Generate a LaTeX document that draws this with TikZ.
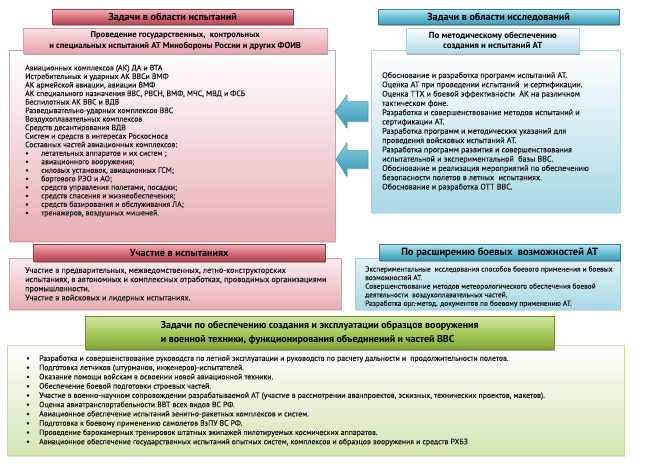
\documentclass[tikz,border=0pt]{standalone}
\usepackage{fontspec}
\setmainfont{PT Sans}
\newfontfamily\semib{PT Sans}[FakeBold=0.45]
\usetikzlibrary{shadows}
\definecolor{txt}{HTML}{1A1A1A}
\definecolor{rhTop}{HTML}{F2B2B8}
\definecolor{rhMid}{HTML}{D66E7A}
\definecolor{rhBot}{HTML}{B54452}
\definecolor{rsTop}{HTML}{FAE0E3}
\definecolor{rsBot}{HTML}{E6A2AA}
\definecolor{rbBot}{HTML}{E7AEB5}
\definecolor{rbLine}{HTML}{DB99A1}
\definecolor{bhTop}{HTML}{B6E3EE}
\definecolor{bhMid}{HTML}{68BED3}
\definecolor{bhBot}{HTML}{3C98B1}
\definecolor{bsBot}{HTML}{ADDBE7}
\definecolor{bbBot}{HTML}{A9D8E5}
\definecolor{bbLine}{HTML}{A4D2DF}
\definecolor{ghTop}{HTML}{D2E7A2}
\definecolor{ghMid}{HTML}{A6CA5C}
\definecolor{ghBot}{HTML}{80A636}
\definecolor{gbBot}{HTML}{D3E5B3}
\definecolor{gbLine}{HTML}{C6DAA2}
\definecolor{arTop}{HTML}{86CDE0}
\definecolor{arBot}{HTML}{3597B3}
\begin{document}
\begin{tikzpicture}[x=1bp,y=-1bp,
  shd/.style={drop shadow={shadow xshift=1.2bp,shadow yshift=-1.6bp,opacity=0.45,fill=black!70}},
  softshd/.style={drop shadow={shadow xshift=1bp,shadow yshift=-1.2bp,opacity=0.22,fill=black!60}},
  panel/.style={rectangle, inner sep=0pt, anchor=north west, line width=0.6bp, softshd},
  headbox/.style={rectangle, inner sep=0pt, anchor=north west, text=black, align=center, line width=0.4bp, shd},
  redhead/.style={headbox, top color=rhTop, bottom color=rhBot, middle color=rhMid, draw=rhBot!85!black},
  bluehead/.style={headbox, top color=bhTop, bottom color=bhBot, middle color=bhMid, draw=bhBot!85!black},
  greenhead/.style={headbox, top color=ghTop, bottom color=ghBot, middle color=ghMid, draw=ghBot!85!black},
  body/.style={inner sep=0pt, anchor=north west, align=left, text=txt},
  blockarrow/.style={top color=arTop, bottom color=arBot, draw=arBot!80!black, line width=0.3bp, softshd},
]
\useasboundingbox (0,0) rectangle (650,464);
\fill[white] (0,0) rectangle (650,464);

% ---------- left column ----------
\node[panel, top color=white, bottom color=rbBot, draw=rbLine, minimum width=326bp, minimum height=191bp] (lbox) at (9,50) {};
\node[redhead, minimum width=241bp, minimum height=15bp, font=\bfseries\fontsize{10.2}{12}\selectfont] (lhead) at (52,9.5) {Задачи в области испытаний};
\node[headbox, top color=rsTop, bottom color=rsBot, draw=rbLine, minimum width=304bp, minimum height=25bp, font=\bfseries\fontsize{8.6}{11}\selectfont] (lsub) at (23,28) {Проведение государственных,\ \ контрольных\\и специальных испытаний АТ Минобороны России и других ФОИВ};
\node[body, font=\semib\fontsize{7.8}{8.56}\selectfont] (ltext) at (25,64.7) {%
Авиационных комплексов (АК) ДА и ВТА\\
Истребительных и ударных АК ВВСи ВМФ\\
АК армейской авиации, авиации ВМФ\\
АК специального назначения ВВС, РВСН, ВМФ, МЧС, МВД и ФСБ\\
Беспилотных АК ВВС и ВДВ\\
Разведывательно-ударных комплексов ВВС\\
Воздухоплавательных комплексов\\
Средств десантирования ВДВ\\
Систем и средств в интересах Роскосмоса\\
Составных частей авиационных комплексов:\\
\makebox[16bp][l]{\textbullet}летательных аппаратов и их систем ;\\
\makebox[16bp][l]{\textbullet}авиационного вооружения;\\
\makebox[16bp][l]{\textbullet}силовых установок, авиационных ГСМ;\\
\makebox[16bp][l]{\textbullet}бортового РЭО и АО;\\
\makebox[16bp][l]{\textbullet}средств управления полетами, посадки;\\
\makebox[16bp][l]{\textbullet}средств спасения и жизнеобеспечения;\\
\makebox[16bp][l]{\textbullet}средств базирования и обслуживания ЛА;\\
\makebox[16bp][l]{\textbullet}тренажеров, воздушных мишеней.};

\node[panel, top color=rsTop!60!white, bottom color=rbBot, draw=rbLine, minimum width=332bp, minimum height=51bp] (lbot) at (9,258) {};
\node[redhead, minimum width=292bp, minimum height=17bp, font=\bfseries\fontsize{10.2}{12}\selectfont] (lbhead) at (33,244) {Участие в испытаниях};
\node[body, font=\semib\fontsize{8.2}{9.2}\selectfont] (lbtext) at (25,267) {%
Участие в предварительных, межведомственных, летно-конструкторских\\
испытаниях, в автономных и комплексных отработках, проводимых организациями\\
промышленности.\\
Участие в войсковых и лидерных испытаниях.};

% ---------- right column ----------
\node[panel, top color=white, bottom color=bbBot, draw=bbLine, minimum width=249bp, minimum height=162bp] (rbox) at (371,50) {};
\node[bluehead, minimum width=241bp, minimum height=15bp, font=\bfseries\fontsize{10.2}{12}\selectfont] (rhead) at (378,9.5) {Задачи в области исследований};
\node[headbox, top color=white, bottom color=bsBot, draw=bbLine, minimum width=173bp, minimum height=25bp, font=\bfseries\fontsize{8.9}{10.5}\selectfont] (rsub) at (406,28) {По методическому обеспечению\\создания и испытаний АТ};
\node[body, font=\semib\fontsize{8.1}{9.33}\selectfont] (rtext) at (382,71.9) {%
Обоснование и разработка программ испытаний АТ.\\
Оценка АТ при проведении испытаний\ \ и сертификации.\\
Оценка ТТХ и боевой эффективности\ \ АК на различном\\
тактическом фоне.\\
Разработка и совершенствование методов испытаний и\\
сертификации АТ.\\
Разработка программ и методических указаний для\\
проведения войсковых испытаний АТ.\\
Разработка программ развития и совершенствования\\
испытательной и экспериментальной\ \ базы ВВС.\\
Обоснование и реализация мероприятий по обеспечению\\
безопасности полетов в летных\ \ испытаниях.\\
Обоснование и разработка ОТТ ВВС.};

\node[panel, top color=bbBot!35!white, bottom color=bbBot, draw=bbLine, minimum width=265bp, minimum height=51bp] (rbot) at (355,258) {};
\node[bluehead, minimum width=241bp, minimum height=16bp, font=\bfseries\fontsize{10.5}{12}\selectfont] (rbhead) at (379,244.5) {По расширению боевых\ \ возможностей АТ};
\node[body, font=\semib\fontsize{7.4}{8.6}\selectfont] (rbtext) at (365,266) {%
Экспериментальные\ \ исследования способов боевого применения и боевых\\
возможностей АТ.\\
Совершенствование методов метеорологического обеспечения боевой\\
деятельности\ \ воздухоплавательных частей.\\
Разработка орг.-метод. документов по боевому применению АТ.};

% ---------- arrows ----------
\path[blockarrow] (335,111.5) -- ++(12,-16.5) -- ++(0,6.5) -- ++(21,0) -- ++(0,20) -- ++(-21,0) -- ++(0,6.5) -- cycle;
\path[blockarrow] (336,159.5) -- ++(11,-17) -- ++(0,8) -- ++(21,0) -- ++(0,18) -- ++(-21,0) -- ++(0,8) -- cycle;

% ---------- bottom ----------
\node[panel, top color=white, bottom color=gbBot, draw=gbLine, minimum width=617bp, minimum height=110bp] (gbox) at (7,345) {};
\node[greenhead, minimum width=469bp, minimum height=33bp, align=left, font=\bfseries\fontsize{10}{13.5}\selectfont] (ghead) at (85,316) {Задачи по обеспечению создания и эксплуатации образцов вооружения\\и военной техники, функционирования объединений и частей ВВС};
\node[body, font=\semib\fontsize{7.8}{9.3}\selectfont] (gtext) at (26,355) {%
\makebox[13bp][l]{\textbullet}Разработка и совершенствование руководств по летной эксплуатации и руководств по расчету дальности и\ \ продолжительности полетов.\\
\makebox[13bp][l]{\textbullet}Подготовка летчиков (штурманов, инженеров)-испытателей.\\
\makebox[13bp][l]{\textbullet}Оказание помощи войскам в освоении новой авиационной техники.\\
\makebox[13bp][l]{\textbullet}Обеспечение боевой подготовки строевых частей.\\
\makebox[13bp][l]{\textbullet}Участие в военно-научном сопровождении разрабатываемой АТ (участие в рассмотрении аванпроектов, эскизных, технических проектов, макетов).\\
\makebox[13bp][l]{\textbullet}Оценка авиатранспортабельности ВВТ всех видов ВС РФ.\\
\makebox[13bp][l]{\textbullet}Авиационное обеспечение испытаний зенитно-ракетных комплексов и систем.\\
\makebox[13bp][l]{\textbullet}Подготовка к боевому применению самолетов ВзПУ ВС РФ.\\
\makebox[13bp][l]{\textbullet}Проведение барокамерных тренировок штатных экипажей пилотируемых космических аппаратов.\\
\makebox[13bp][l]{\textbullet}Авиационное обеспечение государственных испытаний опытных систем, комплексов и образцов вооружения и средств РХБЗ};
\end{tikzpicture}
\end{document}
